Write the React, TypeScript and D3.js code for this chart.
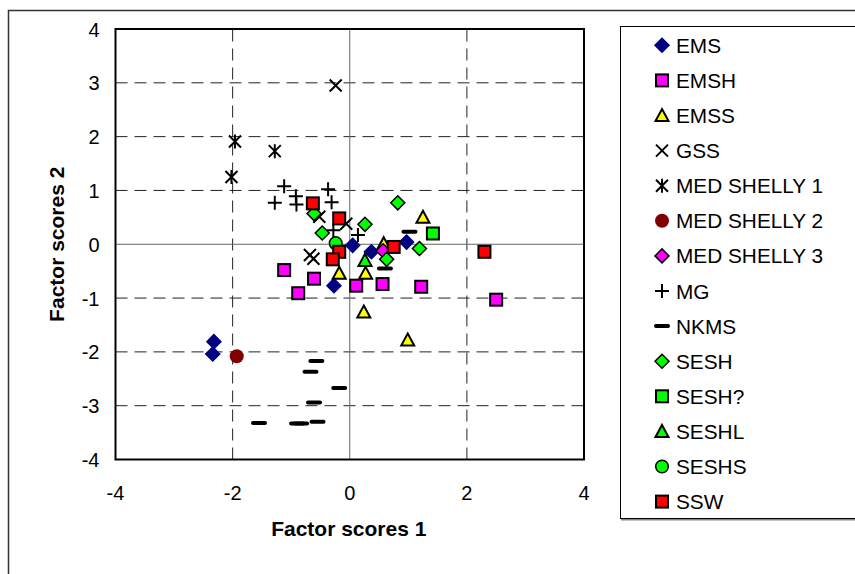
import React, { useRef, useEffect } from 'react';
import * as d3 from 'd3';

// factor scores, [score 1, score 2]
const EMS = [[0.05, -0.02], [0.37, -0.14], [-0.27, -0.77], [0.97, 0.04], [-2.32, -1.81], [-2.34, -2.04]];
const EMSH = [[-1.12, -0.48], [-0.61, -0.64], [-0.88, -0.91], [0.11, -0.77], [0.56, -0.74], [1.22, -0.79], [2.5, -1.03]];
const EMSS = [[1.25, 0.5], [0.58, 0.01], [-0.18, -0.54], [0.27, -0.54], [0.24, -1.26], [0.99, -1.78]];
const GSS = [[-0.24, 2.95], [-0.52, 0.51], [-0.06, 0.38], [-0.68, -0.2], [-0.62, -0.27]];
const MED1 = [[-1.96, 1.91], [-1.28, 1.73], [-2.02, 1.25]];
const MED2 = [[-1.93, -2.08]];
const MED3 = [[0.57, -0.12]];
const MG = [[-1.12, 1.08], [-1.28, 0.77], [-0.92, 0.89], [-0.91, 0.74], [-0.37, 1.02], [-0.31, 0.78], [-0.28, 0.26], [0.14, 0.17]];
const NKMS = [[1.02, 0.23], [0.6, -0.45], [-0.57, -2.17], [-0.67, -2.37], [-0.18, -2.67], [-0.61, -2.94], [-1.55, -3.32], [-0.9, -3.33], [-0.83, -3.33], [-0.55, -3.3]];
const SESH = [[-0.61, 0.57], [0.26, 0.37], [-0.47, 0.21], [0.82, 0.77], [1.19, -0.08], [0.63, -0.28]];
const SESHQ = [[1.42, 0.2]];
const SESHL = [[0.26, -0.3]];
const SESHS = [[-0.24, 0.02]];
const SSW = [[-0.63, 0.76], [-0.18, 0.48], [-0.18, -0.14], [-0.29, -0.28], [0.75, -0.05], [2.3, -0.14]];

const SERIES_NAMES = ['EMS', 'EMSH', 'EMSS', 'GSS', 'MED SHELLY 1', 'MED SHELLY 2', 'MED SHELLY 3', 'MG', 'NKMS', 'SESH', 'SESH?', 'SESHL', 'SESHS', 'SSW'];
const SERIES_DATA = [EMS, EMSH, EMSS, GSS, MED1, MED2, MED3, MG, NKMS, SESH, SESHQ, SESHL, SESHS, SSW];
const TICKS = [-4, -3, -2, -1, 0, 1, 2, 3, 4];
const X_TICKS = [-4, -2, 0, 2, 4];

type Style = { shape: string; fill: string; stroke: string };
const STYLES: Style[] = [
  { shape: 'diamond', fill: '#000080', stroke: '#000080' },
  { shape: 'square', fill: '#FF00FF', stroke: '#000' },
  { shape: 'triangle', fill: '#FFFF00', stroke: '#000' },
  { shape: 'x', fill: 'none', stroke: '#000' },
  { shape: 'star', fill: 'none', stroke: '#000' },
  { shape: 'circle', fill: '#800000', stroke: '#800000' },
  { shape: 'diamond', fill: '#FF00FF', stroke: '#000' },
  { shape: 'plus', fill: 'none', stroke: '#000' },
  { shape: 'dash', fill: 'none', stroke: '#000' },
  { shape: 'diamond', fill: '#00FF00', stroke: '#000' },
  { shape: 'square', fill: '#00FF00', stroke: '#000' },
  { shape: 'triangle', fill: '#00FF00', stroke: '#000' },
  { shape: 'circle', fill: '#00FF00', stroke: '#000' },
  { shape: 'square', fill: '#FF0000', stroke: '#000' },
];

const FONT = '"Liberation Sans", Arial, sans-serif';

function drawMarker(g: any, st: Style, cx: number, cy: number) {
  const m = g.append('g').attr('transform', `translate(${cx},${cy})`);
  switch (st.shape) {
    case 'diamond':
      m.append('path').attr('d', 'M0,-7L7,0L0,7L-7,0Z').attr('fill', st.fill).attr('stroke', st.stroke).attr('stroke-width', 1.5);
      break;
    case 'square':
      m.append('rect').attr('x', -6).attr('y', -6).attr('width', 12).attr('height', 12).attr('fill', st.fill).attr('stroke', st.stroke).attr('stroke-width', 2);
      break;
    case 'triangle':
      m.append('path').attr('d', 'M0,-6.5L6.5,5.5L-6.5,5.5Z').attr('fill', st.fill).attr('stroke', st.stroke).attr('stroke-width', 2).attr('stroke-linejoin', 'miter');
      break;
    case 'circle':
      m.append('circle').attr('r', st.stroke === '#000' ? 6.3 : 7).attr('fill', st.fill).attr('stroke', st.stroke).attr('stroke-width', st.stroke === '#000' ? 1.5 : 0);
      break;
    case 'x':
      m.append('path').attr('d', 'M-6,-6L6,6M-6,6L6,-6').attr('stroke', st.stroke).attr('stroke-width', 2);
      break;
    case 'star':
      m.append('path').attr('d', 'M-6,-6L6,6M-6,6L6,-6M0,-7L0,7').attr('stroke', st.stroke).attr('stroke-width', 2);
      break;
    case 'plus':
      m.append('path').attr('d', 'M-7,0L7,0M0,-7L0,7').attr('stroke', st.stroke).attr('stroke-width', 2);
      break;
    case 'dash':
      m.append('path').attr('d', 'M-6,0L6,0').attr('stroke', st.stroke).attr('stroke-width', 4).attr('stroke-linecap', 'round');
      break;
  }
}

export default function App() {
  const svgRef = useRef<SVGSVGElement>(null);

  useEffect(() => {
    if (!svgRef.current) return;
    const svg = d3.select(svgRef.current);
    svg.selectAll('*').remove();
    const width = 855, height = 574;
    const x = d3.scaleLinear().domain([-4, 4]).range([115.5, 584]);
    const y = d3.scaleLinear().domain([-4, 4]).range([459.5, 29]);

    svg.append('rect').attr('x', 0).attr('y', 0).attr('width', width).attr('height', height).attr('fill', '#fff');
    svg.append('rect').attr('x', 8.5).attr('y', 10.5).attr('width', 900).attr('height', 600).attr('fill', 'none').attr('stroke', '#333').attr('stroke-width', 1.5);

    const g = svg.append('g');
    // dashed gridlines
    TICKS.filter(t => t !== 0 && Math.abs(t) !== 4).forEach(t => {
      g.append('line').attr('x1', x(-4)).attr('x2', x(4)).attr('y1', y(t)).attr('y2', y(t)).attr('stroke', '#222').attr('stroke-width', 1).attr('stroke-dasharray', '12,7');
    });
    X_TICKS.filter(t => t !== 0 && Math.abs(t) !== 4).forEach(t => {
      g.append('line').attr('y1', y(-4)).attr('y2', y(4)).attr('x1', x(t)).attr('x2', x(t)).attr('stroke', '#222').attr('stroke-width', 1).attr('stroke-dasharray', '12,7');
    });
    // zero lines
    g.append('line').attr('x1', x(-4)).attr('x2', x(4)).attr('y1', y(0)).attr('y2', y(0)).attr('stroke', '#666').attr('stroke-width', 1);
    g.append('line').attr('y1', y(-4)).attr('y2', y(4)).attr('x1', x(0)).attr('x2', x(0)).attr('stroke', '#666').attr('stroke-width', 1);
    // plot border
    g.append('rect').attr('x', x(-4)).attr('y', y(4)).attr('width', x(4) - x(-4)).attr('height', y(-4) - y(4)).attr('fill', 'none').attr('stroke', '#000').attr('stroke-width', 2);

    // tick labels
    TICKS.forEach(t => {
      g.append('text').attr('x', 99.5).attr('y', y(t) + 7.5).attr('text-anchor', 'end').attr('font-family', FONT).attr('font-size', 20).attr('fill', '#000').text(t);
    });
    X_TICKS.forEach(t => {
      g.append('text').attr('x', x(t)).attr('y', 499.5).attr('text-anchor', 'middle').attr('font-family', FONT).attr('font-size', 20).attr('fill', '#000').text(t);
    });
    g.append('text').attr('x', (x(-4) + x(4)) / 2 - 1).attr('y', 536).attr('text-anchor', 'middle').attr('font-family', FONT).attr('font-size', 21).attr('font-weight', 'bold').text('Factor scores 1');
    g.append('text').attr('transform', `translate(64,${(y(-4) + y(4)) / 2}) rotate(-90)`).attr('text-anchor', 'middle').attr('font-family', FONT).attr('font-size', 21).attr('font-weight', 'bold').text('Factor scores 2');

    // points
    SERIES_DATA.forEach((pts, i) => {
      const sg = g.append('g');
      pts.forEach(([a, b]) => drawMarker(sg, STYLES[i], x(a), y(b)));
    });

    // legend
    const lg = svg.append('g');
    lg.append('line').attr('x1', 621).attr('x2', 860).attr('y1', 519.5).attr('y2', 519.5).attr('stroke', '#888').attr('stroke-width', 2);
    lg.append('rect').attr('x', 620.5).attr('y', 26.5).attr('width', 260).attr('height', 492).attr('fill', '#fff').attr('stroke', '#000').attr('stroke-width', 1);
    SERIES_NAMES.forEach((name, i) => {
      const cy = 45.3 + i * 35.1;
      drawMarker(lg, STYLES[i], 662, cy);
      lg.append('text').attr('x', 676).attr('y', cy + 7.5).attr('font-family', FONT).attr('font-size', 20.8).attr('fill', '#000').text(name);
    });
  }, []);

  return (
    <div style={{ position: 'fixed', left: 0, top: 0, width: 855, height: 574, background: '#fff' }}>
      <svg ref={svgRef} width={855} height={574} style={{ display: 'block' }} />
    </div>
  );
}
